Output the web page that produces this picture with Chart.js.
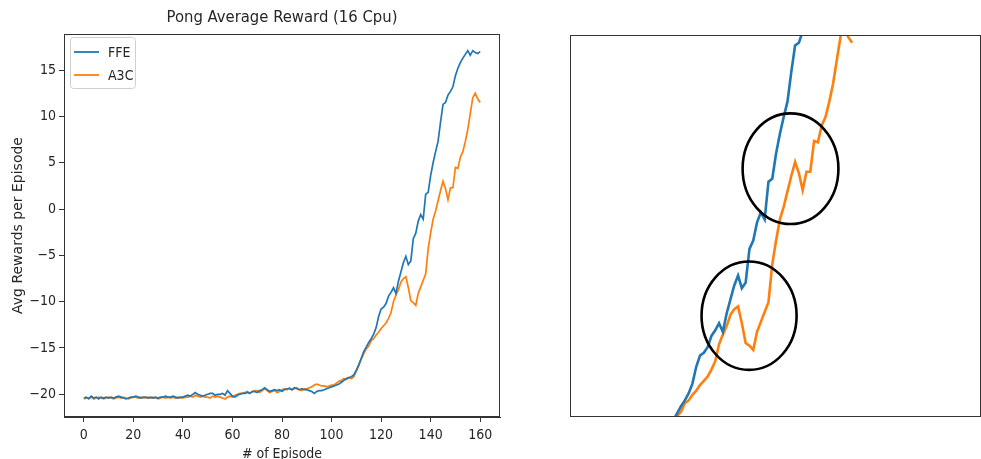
<!DOCTYPE html>
<html>
<head>
<meta charset="utf-8">
<script src="https://cdn.jsdelivr.net/npm/chart.js@4.4.1/dist/chart.umd.min.js"></script>
<style>
  html, body { margin: 0; padding: 0; background: #fff; overflow: hidden; }
  body { width: 981px; height: 459px; position: relative; }
  #leftBox { position: absolute; left: 0; top: 0; width: 520px; height: 463px; }
  #rightBox { position: absolute; left: 560px; top: 0; width: 421px; height: 459px; }
</style>
</head>
<body>
<div id="leftBox"><canvas id="fullChart"></canvas></div>
<div id="rightBox"><canvas id="zoomChart"></canvas></div>
<script>
// episodes on the x axis
const episodes = [
    0, 1, 2, 3, 4, 5, 6, 7, 8, 9, 10, 11, 12, 13, 14, 15, 16, 17, 18, 19,
    20, 21, 22, 23, 24, 25, 26, 27, 28, 29, 30, 31, 32, 33, 34, 35, 36, 37, 38, 39,
    40, 41, 42, 43, 44, 45, 46, 47, 48, 49, 50, 51, 52, 53, 54, 55, 56, 57, 58, 59,
    60, 61, 62, 63, 64, 65, 66, 67, 68, 69, 70, 71, 72, 73, 74, 75, 76, 77, 78, 79,
    80, 81, 82, 83, 84, 85, 86, 87, 88, 89, 90, 91, 92, 93, 94, 95, 96, 97, 98, 99,
    100, 101, 102, 103, 104, 105, 106, 107, 108, 109, 110, 111, 112, 113, 114, 115, 116, 117, 118, 119,
    120, 121, 122, 123, 124, 125, 126, 127, 128, 129, 130, 131, 132, 133, 134, 135, 136, 137, 138, 139,
    140, 141, 142, 143, 144, 145, 146, 147, 148, 149, 150, 151, 152, 153, 154, 155, 156, 157, 158, 159, 160
];

// average reward per episode, FFE
const ffeReward = [
    -20.4, -20.3, -20.5, -20.2, -20.4, -20.3, -20.5, -20.3, -20.4, -20.3, -20.4, -20.3, -20.4, -20.3, -20.2, -20.3, -20.4, -20.5, -20.4, -20.3,
    -20.3, -20.2, -20.3, -20.4, -20.3, -20.3, -20.4, -20.3, -20.4, -20.3, -20.4, -20.3, -20.3, -20.2, -20.3, -20.3, -20.2, -20.3, -20.4, -20.3,
    -20.3, -20.2, -20.1, -20.2, -20.0, -19.8, -20.0, -20.1, -20.2, -20.1, -20.0, -19.9, -19.9, -20.1, -20.0, -20.0, -19.9, -20.1, -19.6, -19.9,
    -20.2, -20.3, -20.1, -20.0, -19.9, -19.9, -19.8, -19.9, -19.7, -19.7, -19.8, -19.6, -19.5, -19.3, -19.5, -19.7, -19.6, -19.5, -19.6, -19.5,
    -19.7, -19.5, -19.4, -19.4, -19.5, -19.3, -19.4, -19.5, -19.4, -19.5, -19.5, -19.6, -19.7, -19.9, -19.7, -19.6, -19.6, -19.5, -19.4, -19.3,
    -19.2, -19.1, -19.0, -18.9, -18.7, -18.5, -18.3, -18.2, -18.1, -17.9, -17.4, -16.8, -16.1, -15.4, -14.9, -14.4, -14.0, -13.5, -12.8, -11.6,
    -10.8, -10.6, -10.2, -9.4, -9.0, -8.5, -9.1, -7.8, -6.8, -5.8, -5.1, -6.0, -5.6, -3.2, -2.6, -1.3, -0.6, -1.1, 1.6, 1.8,
    3.6, 5.0, 6.2, 7.3, 9.4, 11.3, 11.5, 12.3, 12.7, 13.2, 14.4, 15.2, 15.8, 16.3, 16.7, 17.1, 16.6, 17.1, 16.9, 16.8, 17.0
];

// average reward per episode, A3C
const a3cReward = [
    -20.5, -20.4, -20.4, -20.3, -20.5, -20.4, -20.3, -20.4, -20.5, -20.4, -20.3, -20.4, -20.5, -20.4, -20.3, -20.4, -20.3, -20.4, -20.5, -20.4,
    -20.3, -20.3, -20.4, -20.3, -20.4, -20.4, -20.3, -20.4, -20.3, -20.4, -20.5, -20.4, -20.3, -20.4, -20.3, -20.4, -20.3, -20.4, -20.3, -20.4,
    -20.4, -20.3, -20.3, -20.2, -20.3, -20.1, -20.2, -20.3, -20.2, -20.3, -20.3, -20.4, -20.2, -20.3, -20.2, -20.3, -20.4, -20.5, -20.3, -20.2,
    -20.3, -20.1, -20.0, -19.9, -19.9, -19.8, -19.7, -19.9, -19.7, -19.6, -19.6, -19.8, -19.6, -19.4, -19.6, -19.8, -19.7, -19.6, -19.8, -19.7,
    -19.5, -19.4, -19.5, -19.3, -19.5, -19.4, -19.3, -19.5, -19.6, -19.4, -19.4, -19.3, -19.2, -19.0, -18.9, -19.0, -19.1, -19.1, -19.2, -19.1,
    -19.0, -19.0, -18.8, -18.6, -18.5, -18.3, -18.4, -18.2, -18.3, -18.1, -17.5, -16.9, -16.2, -15.6, -15.1, -14.8, -14.2, -14.0, -13.6, -13.3,
    -12.9, -12.6, -12.3, -11.8, -11.2, -10.0, -9.3, -8.7, -7.9, -7.5, -7.3, -8.5, -9.9, -10.1, -10.4, -9.1, -8.4, -7.7, -7.0, -4.3,
    -2.6, -1.1, -0.2, 0.9, 2.0, 3.0, 2.2, 1.0, 2.3, 2.3, 4.5, 4.4, 5.6, 6.2, 7.3, 8.6, 10.3, 12.0, 12.5, 11.9, 11.5
];

const seriesNames = ["FFE", "A3C"];
const chartTitle = "Pong Average Reward (16 Cpu)";
const yTickValues = [-20, -15, -10, -5, 0, 5, 10, 15];
const xTickValues = [0, 20, 40, 60, 80, 100, 120, 140, 160];

// windows shown by the two panels
const fullEpisodeRange = [-8, 168];
const fullRewardRange = [-22.45, 18.9];
const zoomEpisodeRange = [85.8, 193.9];
const zoomRewardRange = [-15.18, 12.05];

// circles marked on the zoomed panel (data units)
const circleEpisodes = [132.9, 143.8];
const circleRewards = [-7.96, 2.52];
const circleEpisodeRadius = [12.5, 12.6];
const circleRewardRadius = [3.86, 3.94];

const BLUE = "#1f77b4";
const ORANGE = "#ff7f0e";
const INK = "#262626";
const FONT = "'DejaVu Sans Condensed', 'DejaVu Sans', sans-serif";

Chart.defaults.font.family = FONT;
Chart.defaults.color = INK;

function toPoints(values) {
    return values.map((v, i) => ({ x: episodes[i], y: v }));
}

function makeDatasets(width) {
    return [
        { label: seriesNames[0], data: toPoints(ffeReward), borderColor: BLUE, backgroundColor: BLUE, borderWidth: width, pointRadius: 0, tension: 0 },
        { label: seriesNames[1], data: toPoints(a3cReward), borderColor: ORANGE, backgroundColor: ORANGE, borderWidth: width, pointRadius: 0, tension: 0 }
    ];
}

// box around the plot area
const frame = {
    id: "frame",
    afterDatasetsDraw(chart) {
        const a = chart.chartArea;
        const ctx = chart.ctx;
        ctx.save();
        ctx.strokeStyle = "#333";
        ctx.lineWidth = 1;
        ctx.strokeRect(Math.round(a.left) + 0.5, Math.round(a.top) + 0.5, Math.round(a.right - a.left) - 1, Math.round(a.bottom - a.top) - 1);
        ctx.restore();
    }
};

// title centred over the plot area, like matplotlib
const plotTitle = {
    id: "plotTitle",
    afterDraw(chart) {
        const a = chart.chartArea;
        const ctx = chart.ctx;
        ctx.save();
        ctx.fillStyle = INK;
        ctx.font = "16.5px " + FONT;
        ctx.textAlign = "center";
        ctx.textBaseline = "middle";
        ctx.fillText(chartTitle, (a.left + a.right) / 2, a.top - 16);
        ctx.restore();
    }
};

const cornerLegend = {
    id: "cornerLegend",
    afterDraw(chart) {
        const a = chart.chartArea;
        const ctx = chart.ctx;
        const x = a.left + 6;
        const y = a.top + 3;
        ctx.save();
        ctx.beginPath();
        ctx.roundRect(x + 0.5, y + 0.5, 65, 51, 3);
        ctx.fillStyle = "rgba(255,255,255,0.85)";
        ctx.fill();
        ctx.strokeStyle = "#d0d0d0";
        ctx.lineWidth = 1;
        ctx.stroke();
        chart.data.datasets.forEach((ds, i) => {
            const rowY = y + 15 + i * 23;
            ctx.beginPath();
            ctx.moveTo(x + 4, rowY);
            ctx.lineTo(x + 29, rowY);
            ctx.strokeStyle = ds.borderColor;
            ctx.lineWidth = 1.8;
            ctx.stroke();
            ctx.fillStyle = INK;
            ctx.font = "14px " + FONT;
            ctx.textBaseline = "middle";
            ctx.fillText(ds.label, x + 38, rowY + 1);
        });
        ctx.restore();
    }
};

const circles = {
    id: "circles",
    afterDatasetsDraw(chart) {
        const xs = chart.scales.x;
        const ys = chart.scales.y;
        const ctx = chart.ctx;
        ctx.save();
        ctx.strokeStyle = "#000";
        ctx.lineWidth = 2.6;
        circleEpisodes.forEach((ep, i) => {
            const cx = xs.getPixelForValue(ep);
            const cy = ys.getPixelForValue(circleRewards[i]);
            const rx = Math.abs(xs.getPixelForValue(ep + circleEpisodeRadius[i]) - cx);
            const ry = Math.abs(ys.getPixelForValue(circleRewards[i] + circleRewardRadius[i]) - cy);
            ctx.beginPath();
            ctx.ellipse(cx, cy, rx, ry, 0, 0, Math.PI * 2);
            ctx.stroke();
        });
        ctx.restore();
    }
};

new Chart(document.getElementById("fullChart"), {
    type: "line",
    data: { datasets: makeDatasets(1.7) },
    options: {
        responsive: true,
        maintainAspectRatio: false,
        animation: false,
        layout: { padding: { left: 0, right: 20, top: 34, bottom: 0 } },
        plugins: {
            legend: { display: false },
            tooltip: { enabled: false },
            title: { display: false }
        },
        scales: {
            x: {
                type: "linear",
                min: fullEpisodeRange[0],
                max: fullEpisodeRange[1],
                grid: { drawOnChartArea: false, drawTicks: true, tickLength: 5, color: "#333" },
                border: { display: true, color: "#333" },
                afterBuildTicks: (s) => { s.ticks = xTickValues.map(v => ({ value: v })); },
                ticks: { font: { size: 14 }, padding: 5, maxRotation: 0, color: INK },
                title: { display: true, text: "# of Episode", font: { size: 14 }, padding: { top: 0, bottom: 0 }, color: INK },
                afterFit: (s) => { s.height = 46; s.paddingLeft = 0; s.paddingRight = 0; }
            },
            y: {
                type: "linear",
                min: fullRewardRange[0],
                max: fullRewardRange[1],
                grid: { drawOnChartArea: false, drawTicks: true, tickLength: 5, color: "#333" },
                border: { display: true, color: "#333" },
                afterBuildTicks: (s) => { s.ticks = yTickValues.map(v => ({ value: v })); },
                ticks: {
                    font: { size: 14 },
                    padding: 3,
                    color: INK,
                    callback: (v) => (v < 0 ? "\u2212" + Math.abs(v) : String(v))
                },
                title: {
                    display: true,
                    text: "Avg Rewards per Episode",
                    font: { family: "'DejaVu Sans', sans-serif", size: 14 },
                    padding: { top: 10, bottom: 0 },
                    color: INK
                },
                afterFit: (s) => { s.width = 64; s.paddingTop = 0; s.paddingBottom = 0; }
            }
        }
    },
    plugins: [frame, plotTitle, cornerLegend]
});

new Chart(document.getElementById("zoomChart"), {
    type: "line",
    data: { datasets: makeDatasets(2.6) },
    options: {
        responsive: true,
        maintainAspectRatio: false,
        animation: false,
        layout: { padding: { left: 10, right: 0, top: 35, bottom: 42 } },
        plugins: { legend: { display: false }, tooltip: { enabled: false } },
        scales: {
            x: { type: "linear", display: false, min: zoomEpisodeRange[0], max: zoomEpisodeRange[1] },
            y: { type: "linear", display: false, min: zoomRewardRange[0], max: zoomRewardRange[1] }
        }
    },
    plugins: [frame, circles]
});
</script>
</body>
</html>
